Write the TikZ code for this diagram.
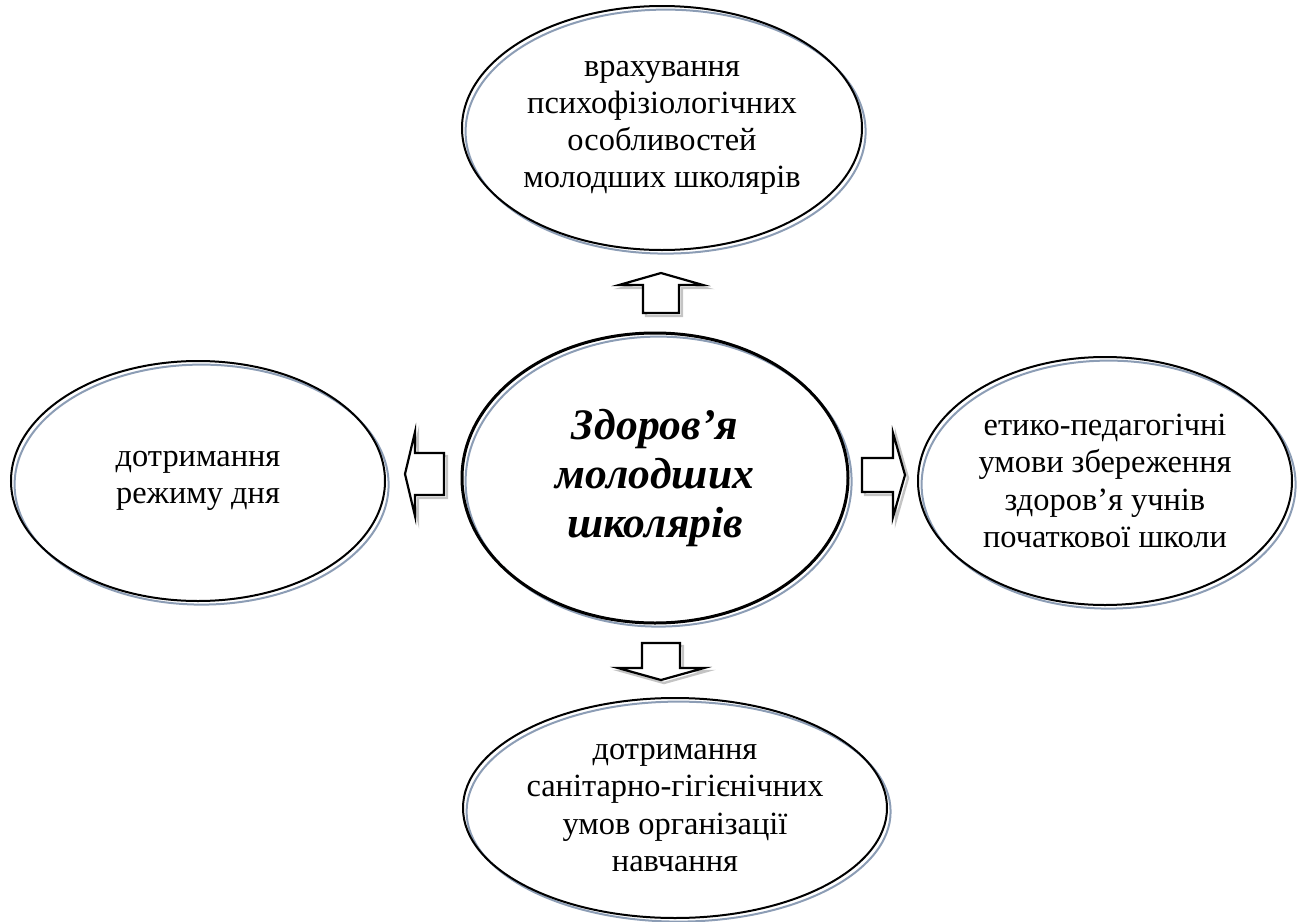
\documentclass[tikz,border=0pt]{standalone}
\usepackage{fontspec}
\setmainfont{Liberation Serif}
\usetikzlibrary{shapes.geometric}
\definecolor{shblue}{HTML}{8C9DB5}
\definecolor{shgray}{HTML}{C4C4C4}
\newcommand\barrowpath[4]{(0,-#4) -- (#1-#2,-#4) -- (#1-#2,-#3) -- (#1,0) -- (#1-#2,#3) -- (#1-#2,#4) -- (0,#4) -- cycle}
% #1,#2 base; #3 angle; #4 length; #5 head length; #6 head half; #7 shaft half
\newcommand\blockarrow[7]{%
  \begin{scope}[shift={(#1+3,#2+3)},rotate=#3]
    \draw[arrshadow] \barrowpath{#4}{#5}{#6}{#7};
  \end{scope}
  \begin{scope}[shift={(#1,#2)},rotate=#3]
    \draw[arrline] \barrowpath{#4}{#5}{#6}{#7};
  \end{scope}}
\begin{document}
\begin{tikzpicture}[x=0.5pt,y=-0.5pt,
  bub/.style={ellipse, draw=black, line width=1pt, inner sep=0pt, align=center,
    font=\fontsize{16.2}{18.6}\selectfont,
    preaction={draw=shblue, line width=1pt, transform canvas={shift={(1.8pt,-1.8pt)}}}},
  mainbub/.style={bub, line width=1.5pt, font=\fontsize{21.8}{24.5}\selectfont\bfseries\itshape},
  arrshadow/.style={draw=shgray, line width=1.2pt, line join=miter},
  arrline/.style={draw=black, line width=1.1pt, line join=miter, fill=white}]
\useasboundingbox (0,0) rectangle (1298,922);
\node[mainbub, minimum width=193pt, minimum height=145pt] (c) at (655,478) {Здоров’я\\молодших\\школярів};
\node[bub, minimum width=200pt, minimum height=122pt] (t) at (662,128) {врахування\\психофізіологічних\\особливостей\\молодших школярів};
\node[bub, minimum width=187pt, minimum height=120pt] (l) at (198,481) {дотримання\\режиму дня};
\node[bub, minimum width=187pt, minimum height=124pt] (r) at (1105,481) {етико-педагогічні\\умови збереження\\здоров’я учнів\\початкової школи};
\node[bub, minimum width=212pt, minimum height=110pt] (b) at (675,808) {дотримання\\санітарно-гігієнічних\\умов організації\\навчання};
\blockarrow{661}{313}{90}{40}{12}{42}{18}
\blockarrow{661}{643}{-90}{37}{12}{43}{19}
\blockarrow{444}{474}{180}{39}{10}{42}{21}
\blockarrow{862}{475}{0}{43}{12}{42}{17}
\end{tikzpicture}
\end{document}
